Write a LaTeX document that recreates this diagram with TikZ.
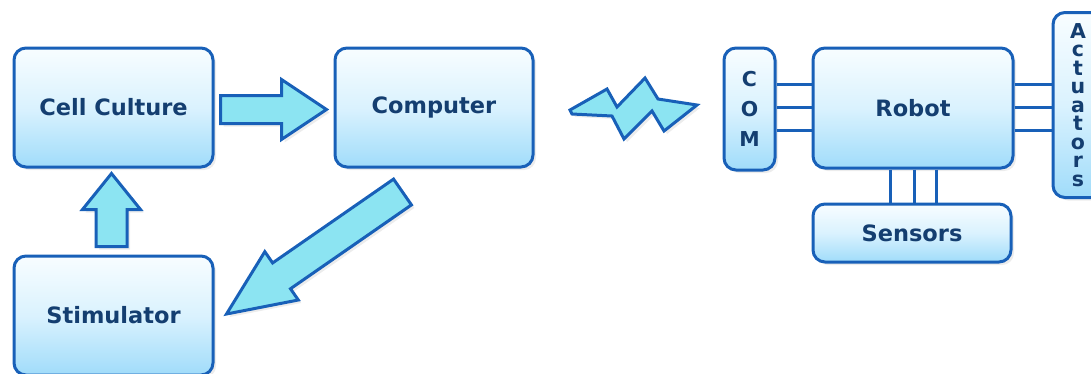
\documentclass[tikz,border=0pt]{standalone}
\usepackage{fontspec}
\setmainfont{DejaVu Sans}
\usepackage{xcolor}
\usepackage{tikz}
\usetikzlibrary{positioning, calc, shadows}

\definecolor{blkline}{RGB}{24,96,184}
\definecolor{blktext}{RGB}{20,62,112}
\definecolor{blktop}{RGB}{248,253,255}
\definecolor{blkmid}{RGB}{218,242,254}
\definecolor{blkbot}{RGB}{160,220,250}
\definecolor{arrfill}{RGB}{140,228,242}

% block arrow: start, tip, shaft half width, head half width, head length
\newcommand{\blockarrow}[5]{%
  \coordinate (hb) at ($(#2)!#5!(#1)$);
  \draw[bigarrow] ($(#1)!#3!90:(#2)$) -- ($(hb)!#3!90:(#2)$) -- ($(hb)!#4!90:(#2)$)
    -- (#2) -- ($(hb)!#4!-90:(#2)$) -- ($(hb)!#3!-90:(#2)$) -- ($(#1)!#3!-90:(#2)$) -- cycle;
}

\begin{document}
\begin{tikzpicture}[x=1pt, y=-1pt,
  blk/.style={draw=blkline, line width=3pt, rounded corners=12pt, inner sep=0pt,
    top color=blktop, bottom color=blkbot, middle color=blkmid,
    text=blktext, font=\fontsize{22.5}{27}\selectfont\bfseries,
    drop shadow={shadow xshift=3pt, shadow yshift=-3pt, opacity=0.15}},
  bigarrow/.style={draw=blkline, fill=arrfill, line width=3pt, line join=miter,
    drop shadow={shadow xshift=3pt, shadow yshift=-3pt, opacity=0.15}},
  link/.style={draw=blkline, line width=3pt}]
\useasboundingbox (0,0) rectangle (1091,373);

% left side
\node[blk, minimum width=199pt, minimum height=119pt] (cell) at (113.5,107.5) {Cell Culture};
\node[blk, minimum width=198pt, minimum height=119pt] (comp) at (434,107.5) {Computer};
\node[blk, minimum width=199pt, minimum height=119pt] (stim) at (113.5,315.5) {Stimulator};

\coordinate (toCompS) at ([xshift=6pt, yshift=-2pt]cell.east);
\coordinate (toCompT) at ([xshift=-7pt, yshift=-2pt]comp.west);
\blockarrow{toCompS}{toCompT}{14pt}{30pt}{45pt}

\coordinate (toCellS) at ([xshift=-2pt, yshift=8pt]stim.north);
\coordinate (toCellT) at ([xshift=-2pt, yshift=-5pt]cell.south);
\blockarrow{toCellS}{toCellT}{15.5pt}{29pt}{36pt}

\coordinate (toStimS) at ([xshift=-31.5pt, yshift=-23.5pt]comp.south);
\coordinate (toStimT) at ([xshift=12pt, yshift=1.5pt]stim.east);
\blockarrow{toStimS}{toStimT}{15.7pt}{29.4pt}{67pt}

% radio link
\draw[bigarrow]
  (570,110) -- (607,89) -- (617,107) -- (645,78) -- (658,99) -- (697,105)
  -- (664,131) -- (652,111) -- (624,139) -- (612,116) -- (572,114) -- cycle;

% robot side
\node[blk, minimum width=200pt, minimum height=120pt] (robot) at (913,108) {Robot};
\node[blk, minimum width=51pt, minimum height=122pt, align=center,
  font=\fontsize{20.5}{30}\selectfont\bfseries] (com) at (749.5,109) {C\\O\\M};
\node[blk, minimum width=198pt, minimum height=58pt] (sens) at (912,233) {Sensors};
\node[blk, minimum width=50pt, minimum height=185pt, align=center,
  font=\fontsize{20.5}{18.5}\selectfont\bfseries] (act) at (1078,105)
  {A\\c\\t\\u\\a\\t\\o\\r\\s};

\foreach \dy in {24,1,-22} {
  \draw[link] ([yshift=\dy pt]robot.west) -- ([yshift=\dy pt]robot.west -| com.east);
  \draw[link] ([yshift=\dy pt]robot.east) -- ([yshift=\dy pt]robot.east -| act.west);
}
\foreach \dx in {-23,1,23}
  \draw[link] ([xshift=\dx pt]robot.south) -- ([xshift=\dx pt]robot.south |- sens.north);
\end{tikzpicture}
\end{document}
